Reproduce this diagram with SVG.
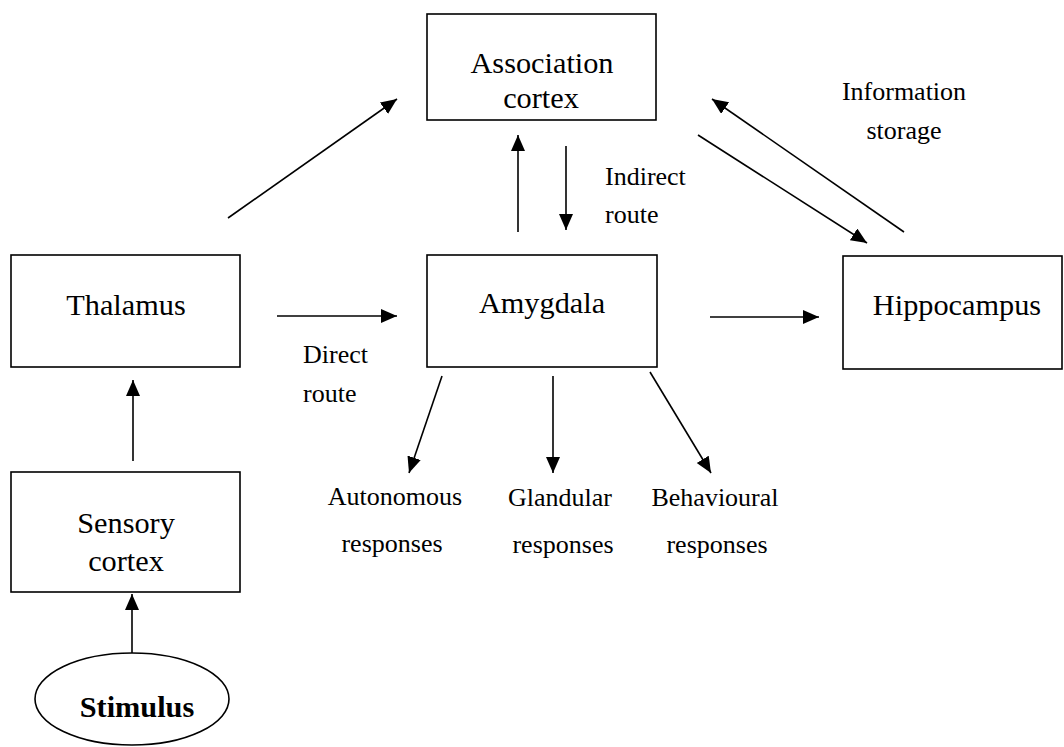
<svg xmlns="http://www.w3.org/2000/svg" width="1064" height="747" viewBox="0 0 1064 747">
<style>
.box{fill:#fff;stroke:#000;stroke-width:1.6}
.n{font-family:'Liberation Serif','Times New Roman',Times,'DejaVu Serif','Noto Serif',serif;font-size:30.3px;fill:#000;text-anchor:middle}
.l{font-family:'Liberation Serif','Times New Roman',Times,'DejaVu Serif','Noto Serif',serif;font-size:26px;fill:#000}
.m{text-anchor:middle}
.c{stroke:#000;stroke-width:1.6;fill:none;marker-end:url(#ah)}
</style>
<defs>
<marker id="ah" markerUnits="userSpaceOnUse" markerWidth="17" markerHeight="15" refX="16" refY="7" orient="auto">
<path d="M0,0 L16,7 L0,14 z" fill="#000"/>
</marker>
</defs>
<rect width="1064" height="747" fill="#fff"/>
<g id="association">
<rect class="box" x="427" y="14" width="229" height="106"/>
<text class="n" x="542" y="73">Association</text>
<text class="n" x="541" y="108">cortex</text>
</g>
<g id="thalamus">
<rect class="box" x="11" y="255" width="229" height="112"/>
<text class="n" x="126" y="315">Thalamus</text>
</g>
<g id="amygdala">
<rect class="box" x="427" y="255" width="230" height="112"/>
<text class="n" x="542" y="313">Amygdala</text>
</g>
<g id="hippocampus">
<rect class="box" x="843" y="256" width="219" height="113"/>
<text class="n" x="957" y="315">Hippocampus</text>
</g>
<g id="sensory">
<rect class="box" x="11" y="472" width="229" height="120"/>
<text class="n" x="126" y="533">Sensory</text>
<text class="n" x="126" y="571">cortex</text>
</g>
<g id="stimulus">
<ellipse class="box" cx="132" cy="699" rx="97" ry="46"/>
<text class="n" x="137" y="717" font-weight="bold">Stimulus</text>
</g>
<g id="connectors">
<line class="c" x1="132" y1="653" x2="132" y2="594"/>
<line class="c" x1="133" y1="461" x2="133" y2="380"/>
<line class="c" x1="228" y1="218" x2="397" y2="99"/>
<line class="c" x1="277" y1="316" x2="397" y2="316"/>
<line class="c" x1="518" y1="232" x2="518" y2="135"/>
<line class="c" x1="566" y1="146" x2="566" y2="230"/>
<line class="c" x1="710" y1="317" x2="819" y2="317"/>
<line class="c" x1="698" y1="135" x2="867" y2="243"/>
<line class="c" x1="904" y1="232" x2="712" y2="99"/>
<line class="c" x1="442" y1="376" x2="409" y2="473"/>
<line class="c" x1="553" y1="376" x2="553" y2="473"/>
<line class="c" x1="650" y1="372" x2="711" y2="473"/>
</g>
<g id="labels">
<text class="l" x="303" y="363">Direct</text>
<text class="l" x="303" y="402">route</text>
<text class="l" x="605" y="185">Indirect</text>
<text class="l" x="605" y="223">route</text>
<text class="l m" x="904" y="100">Information</text>
<text class="l m" x="904" y="139">storage</text>
<text class="l m" x="395" y="505">Autonomous</text>
<text class="l m" x="392" y="552">responses</text>
<text class="l m" x="560" y="506">Glandular</text>
<text class="l m" x="563" y="553">responses</text>
<text class="l m" x="715" y="506">Behavioural</text>
<text class="l m" x="717" y="553">responses</text>
</g>
</svg>
